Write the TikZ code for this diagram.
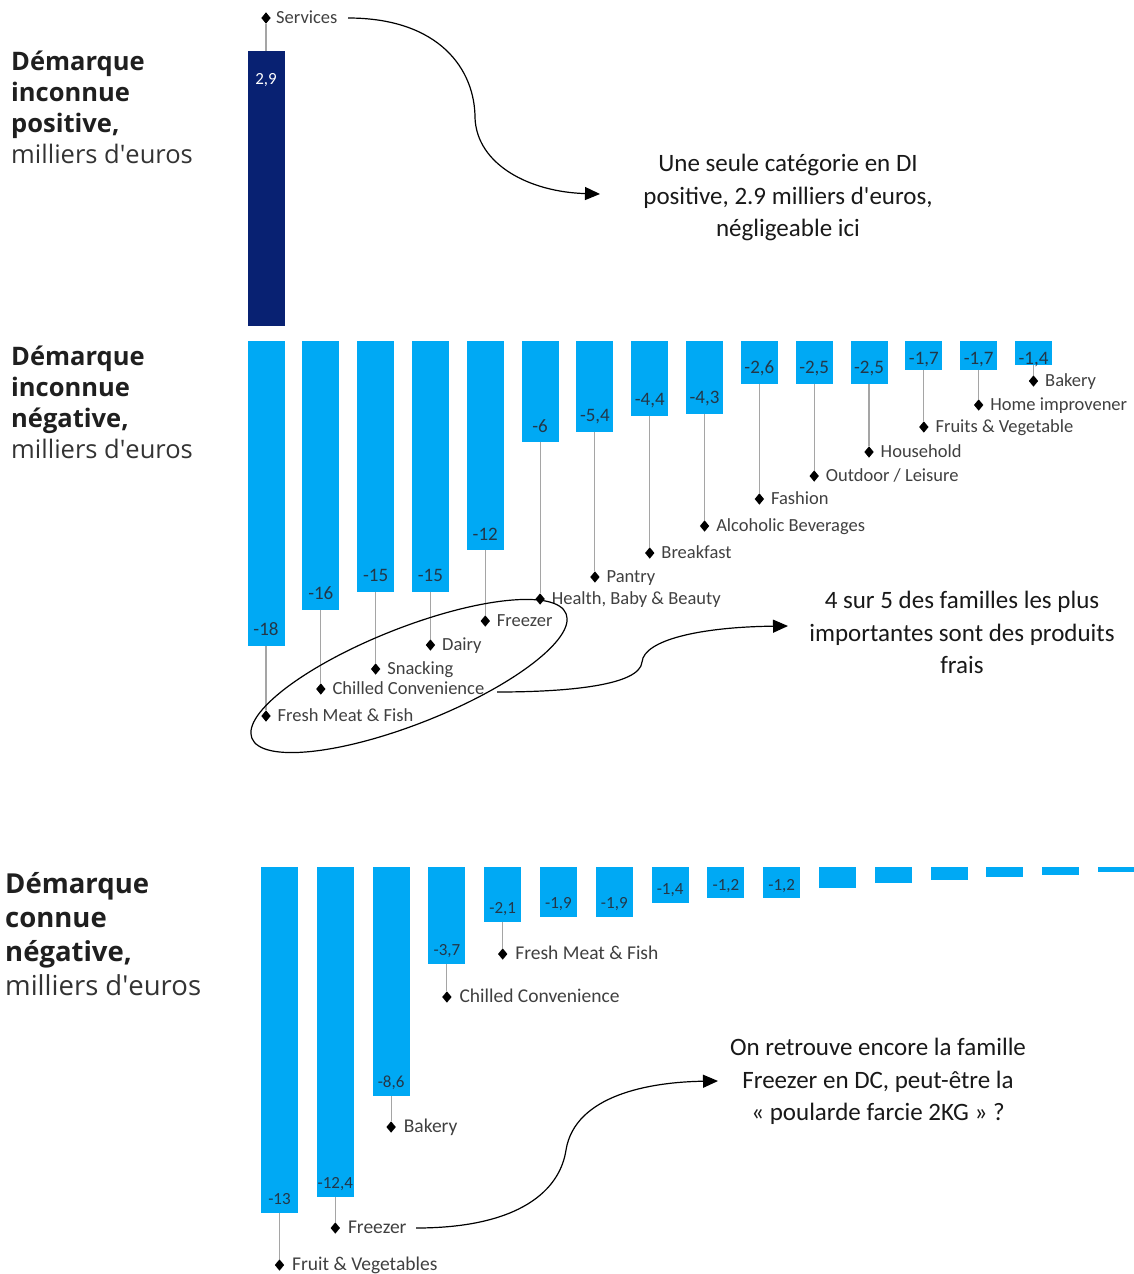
\documentclass[tikz,border=0pt]{standalone}
\usepackage{fontspec}
\setmainfont{Carlito}
\newfontfamily\headfont{Open Sans}
\usetikzlibrary{shapes.geometric,arrows.meta}
\definecolor{barblue}{RGB}{0,169,244}
\definecolor{navy}{RGB}{8,33,114}
\definecolor{valtxt}{RGB}{35,55,72}
\definecolor{lbltxt}{RGB}{64,64,64}
\definecolor{leadgray}{RGB}{165,165,165}
\begin{document}
\begin{tikzpicture}[x=1pt,y=-1pt,
  bar/.style={fill=barblue, draw=none, inner sep=0pt, minimum width=37pt, anchor=north},
  val/.style={text=valtxt, font=\fontsize{19}{19}\selectfont, inner sep=0pt, anchor=mid},
  valsmall/.style={text=valtxt, font=\fontsize{17}{17}\selectfont, inner sep=0pt, anchor=mid},
  dmd/.style={diamond, fill=black, inner sep=0pt, minimum width=9.5pt, minimum height=11.5pt},
  lbl/.style={text=lbltxt, font=\fontsize{18.5}{18.5}\selectfont, inner sep=0pt, anchor=mid west},
  lblbig/.style={text=lbltxt, font=\fontsize{19.5}{19.5}\selectfont, inner sep=0pt, anchor=mid west},
  leader/.style={draw=leadgray, line width=1.1pt},
  head/.style={font=\headfont\bfseries\fontsize{25.5}{30}\selectfont, anchor=base west, inner sep=0pt, text=black!88},
  headr/.style={font=\headfont\fontsize{25.5}{30}\selectfont, anchor=base west, inner sep=0pt, text=black!80},
  headbig/.style={font=\headfont\bfseries\fontsize{27.5}{30}\selectfont, anchor=base west, inner sep=0pt, text=black!88},
  headbigr/.style={font=\headfont\fontsize{27.5}{30}\selectfont, anchor=base west, inner sep=0pt, text=black!80},
  note/.style={font=\fontsize{25}{32}\selectfont, anchor=base, inner sep=0pt, text=black!90},
  arr/.style={draw=black, line width=1.2pt, -{Triangle[length=15pt,width=13pt]}},
]
\path[use as bounding box, fill=white] (0,0) rectangle (1133,1274);

% ---------- headings ----------
\node[head] (h1a) at (11,70) {Démarque};
\node[head] (h1b) at (11,101) {inconnue};
\node[head] (h1c) at (11,132) {positive,};
\node[headr] (h1d) at (11,163) {milliers d\textquotesingle euros};

\node[head] (h2a) at (11,365) {Démarque};
\node[head] (h2b) at (11,396) {inconnue};
\node[head] (h2c) at (11,427) {négative,};
\node[headr] (h2d) at (11,458) {milliers d\textquotesingle euros};

\node[headbig] (h3a) at (5,893) {Démarque};
\node[headbig] (h3b) at (5,927) {connue};
\node[headbig] (h3c) at (5,961) {négative,};
\node[headbigr] (h3d) at (5,995) {milliers d\textquotesingle euros};

% ---------- positive bar ----------
\node[bar, fill=navy, minimum height=275pt] (p1) at (266,51) {};
\node[valsmall, text=white] (pv1) at (266,82) {2,9};
\node[dmd] (pd1) at (266,18) {};
\node[lbl] (pl1) at (276,21) {Services};
\draw[leader] (p1.north) -- (pd1.south);

% ---------- middle chart ----------
\foreach \i/\b/\v/\vy/\dy/\nm in {
 1/646/-18/629/716/{Fresh Meat \& Fish},
 2/610/-16/593/689/{Chilled Convenience},
 3/592/-15/575/669/{Snacking},
 4/592/-15/575/645/{Dairy},
 5/550/-12/534/621/{Freezer},
 6/442/-6/426/599/{Health, Baby \& Beauty},
 7/432/{-5,4}/415/577/{Pantry},
 8/416/{-4,4}/399/553/{Breakfast},
 9/414/{-4,3}/397/526/{Alcoholic Beverages},
 10/384/{-2,6}/367/499/{Fashion},
 11/384/{-2,5}/367/476/{Outdoor / Leisure},
 12/384/{-2,5}/367/452/{Household},
 13/370/{-1,7}/358/427/{Fruits \& Vegetable},
 14/370/{-1,7}/358/405/{Home improvener},
 15/365/{-1,4}/358/381/{Bakery}}{
 \pgfmathsetmacro\x{266+(\i-1)*54.82}
 \node[bar, minimum height={(\b-341)*1pt}] (m\i) at (\x,341) {};
 \node[val] (mv\i) at (\x,\vy+4) {\v};
 \node[dmd] (md\i) at (\x,\dy) {};
 \node[lbl] (ml\i) at (\x+11.5,\dy+3) {\nm};
 \draw[leader] (m\i.south) -- (md\i.north);
}

% ---------- bottom chart ----------
\foreach \i/\b in {1/1213,2/1197,3/1096,4/964,5/922,6/917,7/917,8/903,9/898,10/898,11/888,12/883,13/880,14/877,15/875,16/872}{
 \pgfmathsetmacro\x{279.5+(\i-1)*55.8}
 \node[bar, minimum height={(\b-867)*1pt}] (k\i) at (\x,867) {};
}
\foreach \i/\v/\vy in {1/-13/1198, 2/{-12,4}/1182, 3/{-8,6}/1081, 4/{-3,7}/949, 5/{-2,1}/907, 6/{-1,9}/902, 7/{-1,9}/902, 8/{-1,4}/888, 9/{-1,2}/884, 10/{-1,2}/884}{
 \pgfmathsetmacro\x{279.5+(\i-1)*55.8}
 \node[valsmall] (kv\i) at (\x,\vy+4) {\v};
}
\foreach \i/\dy/\nm in {1/1265/{Fruit \& Vegetables}, 2/1228/{Freezer}, 3/1127/{Bakery}, 4/997/{Chilled Convenience}, 5/954/{Fresh Meat \& Fish}}{
 \pgfmathsetmacro\x{279.5+(\i-1)*55.8}
 \node[dmd] (kd\i) at (\x,\dy) {};
 \node[lblbig] (kl\i) at (\x+12.5,\dy+3) {\nm};
 \draw[leader] (k\i.south) -- (kd\i.north);
}

% ---------- annotations ----------
\node[note] (n1a) at (788,171) {Une seule catégorie en DI};
\node[note] (n1b) at (788,204) {positive, 2.9 milliers d\textquotesingle euros,};
\node[note] (n1c) at (788,236) {négligeable ici};

\node[note] (n2a) at (962,608) {4 sur 5 des familles les plus};
\node[note] (n2b) at (962,641) {importantes sont des produits};
\node[note] (n2c) at (962,673) {frais};

\node[note] (n3a) at (878,1055) {On retrouve encore la famille};
\node[note] (n3b) at (878,1088) {Freezer en DC, peut-être la};
\node[note] (n3c) at (878,1120) {« poularde farcie 2KG » ?};

% ---------- ellipse and arrows ----------
\node[ellipse, draw=black, line width=1.2pt, minimum width=338pt, minimum height=96pt, inner sep=0pt, rotate=21.6] (ell) at (409,676) {};

\coordinate (a1s) at (348,18);
\coordinate (a1e) at (600,194);
\draw[arr] (a1s) .. controls (440,18) and (475,70) .. (475,118) .. controls (477,165) and (530,192) .. (a1e);

\coordinate (a2s) at (497,692);
\coordinate (a2e) at (788,626);
\draw[arr] (a2s) .. controls (570,692) and (640,685) .. (642,662) .. controls (644,640) and (700,627) .. (a2e);

\coordinate (a3s) at (416,1228);
\coordinate (a3e) at (718,1081);
\draw[arr] (a3s) .. controls (520,1228) and (560,1190) .. (566,1150) .. controls (575,1095) and (650,1082) .. (a3e);
\end{tikzpicture}
\end{document}
